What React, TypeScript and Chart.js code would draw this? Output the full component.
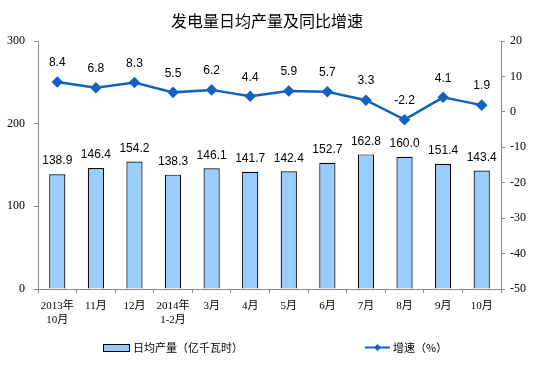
import React, { useEffect, useRef } from "react";
import { Chart, registerables } from "chart.js";

Chart.register(...registerables);

const categories: (string | string[])[] = [
  ["2013年", "10月"],
  "11月",
  "12月",
  ["2014年", "1-2月"],
  "3月",
  "4月",
  "5月",
  "6月",
  "7月",
  "8月",
  "9月",
  "10月",
];

const dailyOutput: number[] = [138.9, 146.4, 154.2, 138.3, 146.1, 141.7, 142.4, 152.7, 162.8, 160.0, 151.4, 143.4];
const growthRate: number[] = [8.4, 6.8, 8.3, 5.5, 6.2, 4.4, 5.9, 5.7, 3.3, -2.2, 4.1, 1.9];

const leftTicks = { min: 0, max: 300, step: 100 };
const rightTicks = { min: -50, max: 20, step: 10 };

const titleText = "发电量日均产量及同比增速";
const barLabel = "日均产量（亿千瓦时）";
const lineLabel = "增速（%）";

const BAR_COLOR = "#99CCFF";
const LINE_COLOR = "#1262C0";
const AXIS_COLOR = "#888888";
const SERIF = '"Liberation Serif", "Noto Sans CJK SC", serif';
const SANS = '"Liberation Sans", Arial, sans-serif';
const CJK = '"Noto Sans CJK SC", sans-serif';

const valueLabels = {
  id: "valueLabels",
  afterDatasetsDraw(chart: any) {
    const ctx = chart.ctx;
    ctx.save();
    ctx.font = `12px ${SANS}`;
    ctx.fillStyle = "#000";
    ctx.textAlign = "center";
    ctx.textBaseline = "middle";
    chart.data.datasets.forEach((ds: any, di: number) => {
      const meta = chart.getDatasetMeta(di);
      meta.data.forEach((el: any, i: number) => {
        const v = ds.data[i] as number;
        const off = ds.type === "line" ? 19 : 13;
        ctx.fillText(v.toFixed(1), el.x, el.y - off);
      });
    });
    ctx.restore();
  },
};

const titleAndLegend = {
  id: "titleAndLegend",
  afterDraw(chart: any) {
    const ctx = chart.ctx;
    const ds = chart.data.datasets;
    const bar = ds.find((d: any) => d.type === "bar");
    const line = ds.find((d: any) => d.type === "line");
    ctx.save();
    // title
    ctx.font = `16px ${CJK}`;
    ctx.fillStyle = "#000";
    ctx.textAlign = "center";
    ctx.textBaseline = "middle";
    ctx.fillText(titleText, 267, 20.5);
    // legend
    const y = 347.5;
    ctx.font = `11px ${CJK}`;
    ctx.textAlign = "left";
    ctx.fillStyle = bar.backgroundColor;
    ctx.fillRect(103, 344, 26, 7);
    ctx.strokeStyle = "#000";
    ctx.lineWidth = 1;
    ctx.strokeRect(103.5, 344.5, 26, 7);
    ctx.fillStyle = "#000";
    ctx.fillText(bar.label, 133, y);
    ctx.strokeStyle = line.borderColor;
    ctx.lineWidth = 2;
    ctx.beginPath();
    ctx.moveTo(365, y);
    ctx.lineTo(390, y);
    ctx.stroke();
    ctx.fillStyle = line.borderColor;
    ctx.beginPath();
    ctx.moveTo(377.5, y - 3.5);
    ctx.lineTo(381, y);
    ctx.lineTo(377.5, y + 3.5);
    ctx.lineTo(374, y);
    ctx.closePath();
    ctx.fill();
    ctx.fillStyle = "#000";
    ctx.fillText(line.label, 393, y);
    ctx.restore();
  },
};

export default function App() {
  const ref = useRef<HTMLCanvasElement | null>(null);

  useEffect(() => {
    if (!ref.current) return;
    const chart = new Chart(ref.current, {
      type: "bar",
      data: {
        labels: categories as any,
        datasets: [
          {
            type: "bar",
            label: barLabel,
            data: dailyOutput,
            yAxisID: "y",
            backgroundColor: BAR_COLOR,
            borderColor: "#000",
            borderWidth: 1.2,
            barPercentage: 0.42,
            categoryPercentage: 1,
            order: 2,
          } as any,
          {
            type: "line",
            label: lineLabel,
            data: growthRate,
            yAxisID: "y1",
            borderColor: LINE_COLOR,
            backgroundColor: LINE_COLOR,
            borderWidth: 2.5,
            pointStyle: "rectRot",
            pointRadius: 4,
            pointBackgroundColor: LINE_COLOR,
            pointBorderColor: LINE_COLOR,
            tension: 0,
            order: 1,
          } as any,
        ],
      },
      options: {
        animation: false,
        responsive: false,
        maintainAspectRatio: false,
        layout: { padding: { top: 41, bottom: 43, left: 0, right: 0 } },
        plugins: {
          legend: { display: false },
          tooltip: { enabled: false },
          title: { display: false },
        },
        scales: {
          x: {
            grid: {
              display: true,
              drawOnChartArea: false,
              offset: true,
              tickLength: 4,
              color: AXIS_COLOR,
            },
            border: { color: AXIS_COLOR, width: 1 },
            ticks: {
              color: "#000",
              font: { family: SERIF, size: 11, lineHeight: 1.28 },
              maxRotation: 0,
              autoSkip: false,
              padding: 6,
            },
            afterFit(scale: any) {
              scale.height = 50;
            },
          },
          y: {
            position: "left",
            min: leftTicks.min,
            max: leftTicks.max,
            ticks: {
              stepSize: leftTicks.step,
              color: "#000",
              font: { family: SERIF, size: 12 },
              padding: 9,
            },
            grid: { drawOnChartArea: false, tickLength: 4, color: AXIS_COLOR },
            border: { color: AXIS_COLOR, width: 1 },
            afterFit(scale: any) {
              scale.width = 38;
            },
          },
          y1: {
            position: "right",
            min: rightTicks.min,
            max: rightTicks.max,
            ticks: {
              stepSize: rightTicks.step,
              color: "#000",
              font: { family: SERIF, size: 12 },
              padding: 5,
            },
            grid: { drawOnChartArea: false, tickLength: 4, color: AXIS_COLOR },
            border: { color: AXIS_COLOR, width: 1 },
            afterFit(scale: any) {
              scale.width = 53;
            },
          },
        },
      },
      plugins: [valueLabels, titleAndLegend],
    });
    return () => chart.destroy();
  }, []);

  return (
    <div style={{ position: "fixed", left: 0, top: 0, width: 554, height: 382, background: "#fff" }}>
      <canvas ref={ref} width={554} height={382} style={{ width: 554, height: 382 }} />
    </div>
  );
}
